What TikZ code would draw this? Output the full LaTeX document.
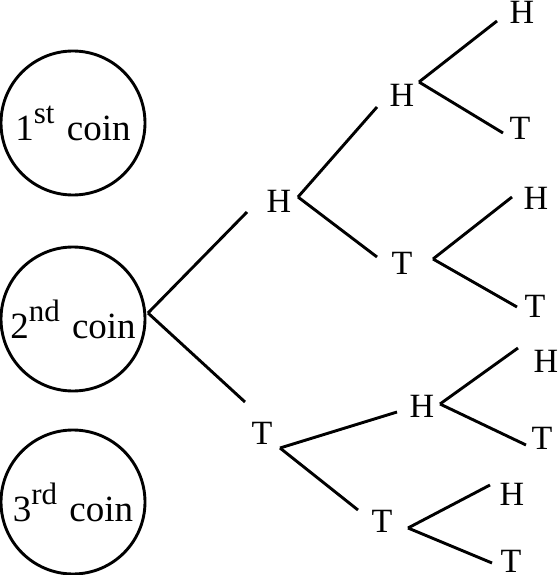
\documentclass[tikz,border=0pt]{standalone}
\usepackage{fontspec}
\setmainfont{Liberation Serif}
\newcommand\coinlabel[2]{#1\raisebox{17pt}{\fontsize{31}{32}\selectfont #2}\hspace{3pt} coin}

\begin{document}
\begin{tikzpicture}[x=1pt, y=-1pt, line width=2.9pt, coin node/.style={shape=circle,draw=black,inner sep=0,minimum size=144pt,font=\fontsize{37}{40}\selectfont}, toss node/.style={inner sep=0,font=\fontsize{34}{36}\selectfont}, ]
		\useasboundingbox (0,0) rectangle (558,575);
		\node[coin node] (c1) at (73,123){\coinlabel{1}{st}};
		\node[coin node] (c2) at (73,319){\coinlabel{2}{nd}};
		\node[coin node] (c3) at (73,502){\coinlabel{3}{rd}};
		%first toss
		\node[toss node] (h1) at (279,201){H};
		\node[toss node] (t1) at (262,433){T};
		%second toss
		\node[toss node] (hh) at (402,95){H};
		\node[toss node] (ht) at (402,263){T};
		\node[toss node] (th) at (422,406){H};
		\node[toss node] (tt) at (382,521){T};
		%third toss
		\foreach \n/\x/\y/\s in {hhh/522/12/H, hht/520/128/T, hth/536/198/H, htt/535/306/T, thh/546/361/H, tht/542/438/T, tth/512/494/H, ttt/511/561/T}
		{
		    \node[toss node] (\n) at (\x,\y){\s};
		}
		
		%branch points
		\coordinate (c2 out) at ([shift={(75,-6)}]c2.center);
		\foreach \n/\a/\b in {h1/19/-4, t1/18/15, hh/17/-13, ht/31/-4, th/18/-2, tt/26/7}
		    \coordinate (\n\space out) at ([shift={(\a,\b)}]\n.center);
		\foreach \n/\a/\b in {h1/-32/11, t1/-17/-31, hh/-25/12, ht/-25/-6, th/-25/6, tt/-24/-11, hhh/-25/9, hht/-17/5, hth/-24/-1, htt/-18/1, thh/-28/-13, tht/-16/7, tth/-22/-9, ttt/-19/2}
		    \coordinate (\n\space in) at ([shift={(\a,\b)}]\n.center);
		
		\draw (c2 out) -- (h1 in);
		\draw (c2 out) -- (t1 in);
		\draw (h1 out) -- (hh in);
		\draw (h1 out) -- (ht in);
		\draw (t1 out) -- (th in);
		\draw (t1 out) -- (tt in);
		\draw (hh out) -- (hhh in);
		\draw (hh out) -- (hht in);
		\draw (ht out) -- (hth in);
		\draw (ht out) -- (htt in);
		\draw (th out) -- (thh in);
		\draw (th out) -- (tht in);
		\draw (tt out) -- (tth in);
		\draw (tt out) -- (ttt in);
		
\end{tikzpicture}
\end{document}
